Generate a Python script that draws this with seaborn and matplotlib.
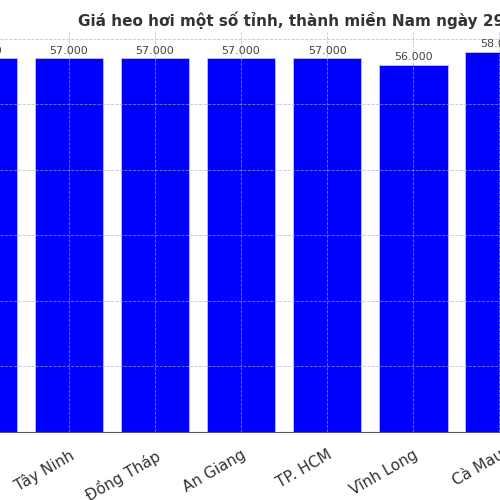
import matplotlib
matplotlib.use("Agg")
import matplotlib.pyplot as plt
import seaborn as sns
import pandas as pd

provinces = ["Đồng Nai", "Tây Ninh", "Đồng Tháp", "An Giang", "TP. HCM", "Vĩnh Long", "Cà Mau"]
prices = [57, 57, 57, 57, 57, 56, 58]
labels = ["57.000", "57.000", "57.000", "57.000", "57.000", "56.000", "58.000"]

df = pd.DataFrame({"province": provinces, "price": prices})
sns.set_style("white")
fig = plt.figure(figsize=(5, 5), dpi=100)
ax = fig.add_axes([0, 0.136, 1, 0.80])
sns.barplot(data=df, x="province", y="price", color="#0000ff", saturation=1,
            width=0.8, edgecolor="#ccccff", linewidth=0.5, ax=ax, zorder=2)
for i, t in enumerate(labels):
    ax.text(i, prices[i] + 0.4, t, ha="center", va="bottom", fontsize=8, color="#444444")
ax.set_xlim(0.198, 6.01)
ax.set_ylim(0, 61)
ax.set_yticks([0, 10, 20, 30, 40, 50, 60])
ax.set_yticklabels([])
ax.tick_params(axis="y", length=0)
ax.grid(True, linestyle="--", color="#aaaacc", linewidth=0.6, alpha=0.7, zorder=3)
ax.set_axisbelow(False)
for s in ["top", "left", "right"]:
    ax.spines[s].set_visible(False)
ax.spines["bottom"].set_color("#555555")
ax.set_xlabel("")
ax.set_ylabel("")
plt.setp(ax.get_xticklabels(), rotation=30, ha="right", rotation_mode="anchor",
         fontsize=11, color="#333333")
ax.tick_params(axis="x", length=3, color="#555555", pad=8)
fig.text(0.155, 0.96, "Giá heo hơi một số tỉnh, thành miền Nam ngày 29/7",
         fontsize=11, fontweight="bold", color="#333333", ha="left", va="center")
fig.savefig("out.png", dpi=100)
